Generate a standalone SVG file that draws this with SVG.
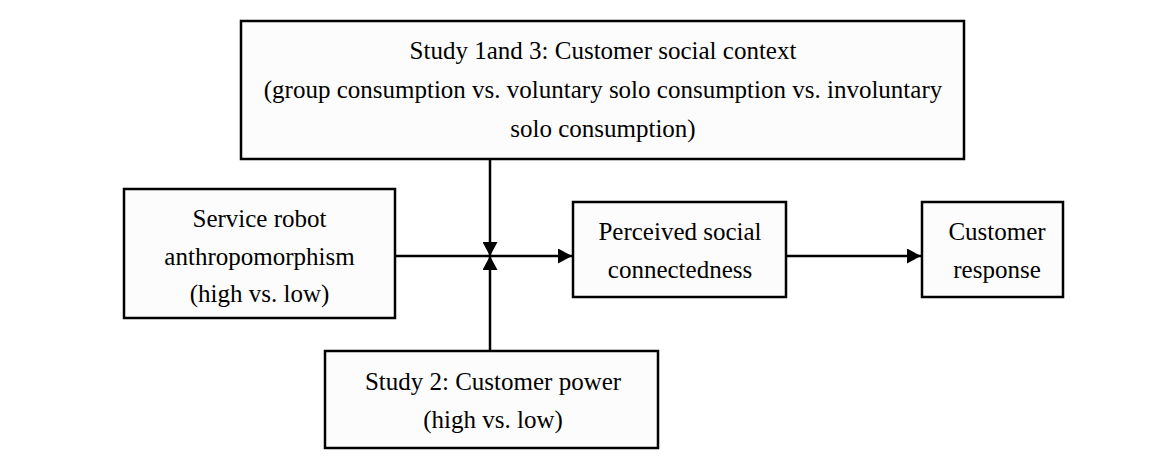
<svg xmlns="http://www.w3.org/2000/svg" width="1165" height="462" viewBox="0 0 1165 462">
<style>
.box{fill:#fcfcfc;stroke:#000;stroke-width:2.5}
.t{font-family:"Liberation Serif","Times New Roman",serif;font-size:25px;fill:#000;text-anchor:middle}
.ln{stroke:#000;stroke-width:2.5;fill:none}
</style>
<defs>
<marker id="ah" viewBox="0 0 14 15" refX="14" refY="7.5" markerWidth="14" markerHeight="15" markerUnits="userSpaceOnUse" orient="auto">
<path d="M0,0 L14,7.5 L0,15 Z" fill="#000"/>
</marker>
</defs>
<rect width="1165" height="462" fill="#fff"/>
<g id="connectors">
<line class="ln" x1="395" y1="256" x2="572" y2="256" marker-end="url(#ah)"/>
<line class="ln" x1="490" y1="159" x2="490" y2="256" marker-end="url(#ah)"/>
<line class="ln" x1="490" y1="351" x2="490" y2="256" marker-end="url(#ah)"/>
<line class="ln" x1="786" y1="256" x2="921" y2="256" marker-end="url(#ah)"/>
</g>
<g id="context">
<rect class="box" x="241" y="21" width="723" height="138"/>
<text class="t" x="603" y="59">Study 1and 3: Customer social context</text>
<text class="t" x="603" y="98">(group consumption vs. voluntary solo consumption vs. involuntary</text>
<text class="t" x="603" y="137">solo consumption)</text>
</g>
<g id="anthro">
<rect class="box" x="124" y="189" width="271" height="129"/>
<text class="t" x="259.5" y="227">Service robot</text>
<text class="t" x="259.5" y="265">anthropomorphism</text>
<text class="t" x="259.5" y="302">(high vs. low)</text>
</g>
<g id="connectedness">
<rect class="box" x="573" y="202" width="213" height="95"/>
<text class="t" x="680" y="240">Perceived social</text>
<text class="t" x="680" y="278">connectedness</text>
</g>
<g id="response">
<rect class="box" x="922" y="202" width="141" height="95"/>
<text class="t" x="997" y="240">Customer</text>
<text class="t" x="997" y="278">response</text>
</g>
<g id="power">
<rect class="box" x="325" y="351" width="333" height="97"/>
<text class="t" x="493" y="390">Study 2: Customer power</text>
<text class="t" x="493" y="428">(high vs. low)</text>
</g>
</svg>
